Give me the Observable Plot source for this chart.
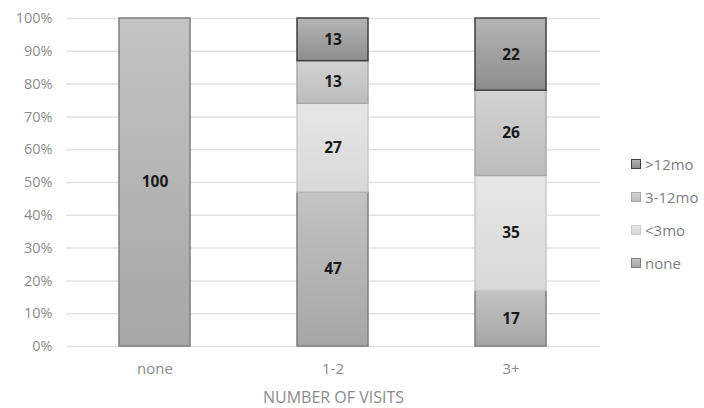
<!DOCTYPE html>
<html>
<head>
<meta charset="utf-8">
<script src="https://cdn.jsdelivr.net/npm/d3@7"></script>
<script src="https://cdn.jsdelivr.net/npm/@observablehq/plot@0.6"></script>
<style>
  html, body { margin: 0; padding: 0; background: #fff; }
  #wrap { position: relative; width: 704px; height: 408px; font-family: "Open Sans", sans-serif; }
  #legend { position: absolute; left: 631px; top: 147px; }
  .item { display: flex; align-items: center; height: 33px; font-size: 15px; color: #7f7f7f; }
  .sw { width: 10px; height: 10px; margin-right: 4px; box-sizing: border-box; border: 1.5px solid; }
</style>
</head>
<body>
<div id="wrap"></div>
<script>
const categories = ["none", "1-2", "3+"];
const series = ["none", "<3mo", "3-12mo", ">12mo"];
const valuesNone = [100, 47, 17];
const valuesLt3 = [0, 27, 35];
const values3to12 = [0, 13, 26];
const valuesGt12 = [0, 13, 22];
const yTicks = [0, 10, 20, 30, 40, 50, 60, 70, 80, 90, 100];

const seriesValues = [valuesNone, valuesLt3, values3to12, valuesGt12];
const styles = {
  "none":   {top: "#c3c3c3", bottom: "#a6a6a6", stroke: "#7f7f7f"},
  "<3mo":   {top: "#e6e6e6", bottom: "#d8d8d8", stroke: "#c9c9c9"},
  "3-12mo": {top: "#d2d2d2", bottom: "#bdbdbd", stroke: "#a9a9a9"},
  ">12mo":  {top: "#b5b5b5", bottom: "#8d8d8d", stroke: "#404040"}
};
const gradId = s => "g" + series.indexOf(s);

const data = [];
series.forEach((s, si) => {
  categories.forEach((c, ci) => {
    const v = seriesValues[si][ci];
    if (v > 0) data.push({cat: c, series: s, value: v});
  });
});

const chart = Plot.plot({
  width: 704,
  height: 408,
  marginLeft: 66,
  marginRight: 104,
  marginTop: 18,
  marginBottom: 62,
  style: {fontFamily: "'Open Sans', sans-serif", fontSize: "14px", color: "#8c8c8c", background: "#fff"},
  x: {domain: categories, paddingInner: 0.6, paddingOuter: 0.3, label: null},
  y: {domain: [0, 100], label: null},
  color: {type: "identity"},
  marks: [
    Plot.gridY(yTicks, {stroke: "#e2e2e2", strokeOpacity: 1, strokeWidth: 1.5}),
    Plot.axisY({ticks: yTicks, tickFormat: d => d + "%", tickSize: 0, tickPadding: 14, label: null, fill: "#8c8c8c", fontSize: 14.5}),
    Plot.axisX({tickSize: 0, tickPadding: 17, label: null, fill: "#8c8c8c", fontSize: 15}),
    Plot.barY(data, Plot.stackY({
      x: "cat", y: "value", z: "series", order: series,
      fill: d => `url(#${gradId(d.series)})`,
      stroke: d => styles[d.series].stroke,
      strokeWidth: 1.5
    })),
    Plot.text(data, Plot.stackY({
      x: "cat", y: "value", z: "series", order: series,
      text: "value", fill: "#1a1a1a", fontWeight: "bold", fontSize: 15.5
    })),
    Plot.text(["NUMBER OF VISITS"], {
      frameAnchor: "bottom", text: d => d, dy: 56, fill: "#8c8c8c", fontSize: 16
    })
  ]
});

const defs = d3.select(chart).insert("defs", ":first-child");
series.forEach(s => {
  const g = defs.append("linearGradient").attr("id", gradId(s))
    .attr("x1", 0).attr("y1", 0).attr("x2", 0).attr("y2", 1);
  g.append("stop").attr("offset", "0%").attr("stop-color", styles[s].top);
  g.append("stop").attr("offset", "100%").attr("stop-color", styles[s].bottom);
});

const wrap = document.getElementById("wrap");
wrap.appendChild(chart);

const legend = document.createElement("div");
legend.id = "legend";
[...series].reverse().forEach(s => {
  const item = document.createElement("div");
  item.className = "item";
  const sw = document.createElement("span");
  sw.className = "sw";
  sw.style.background = `linear-gradient(${styles[s].top}, ${styles[s].bottom})`;
  sw.style.borderColor = styles[s].stroke;
  const t = document.createElement("span");
  t.textContent = s;
  item.appendChild(sw);
  item.appendChild(t);
  legend.appendChild(item);
});
wrap.appendChild(legend);
</script>
</body>
</html>
